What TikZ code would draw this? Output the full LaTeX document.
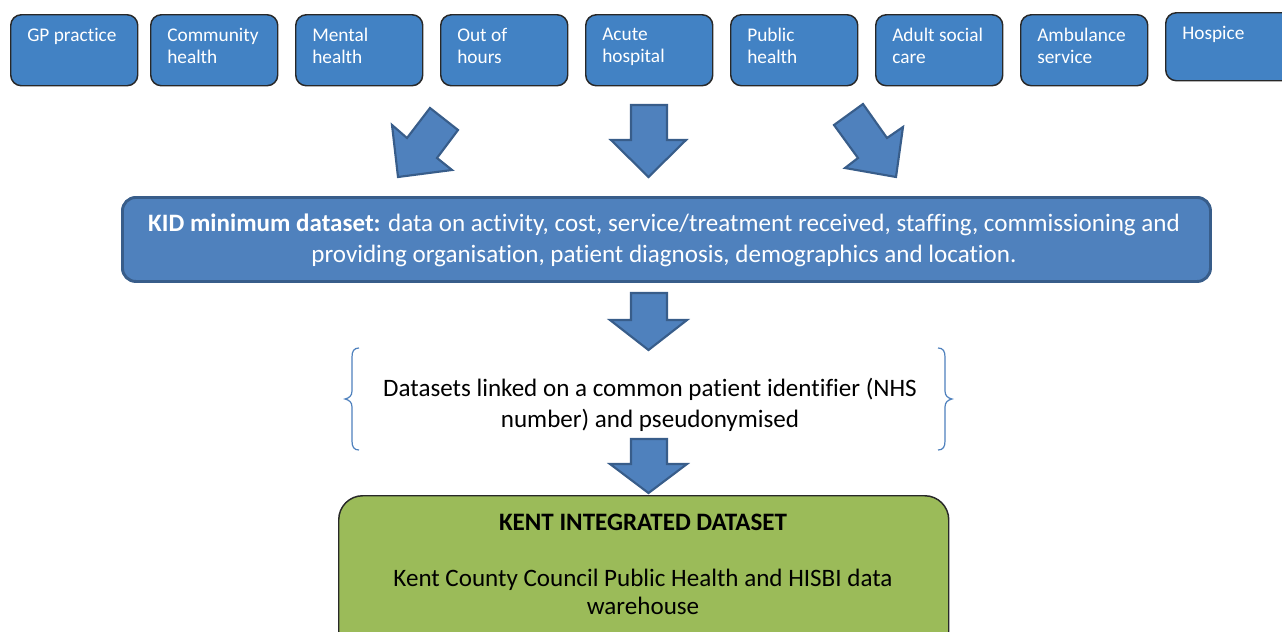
\documentclass[tikz,border=0pt]{standalone}
\usepackage{fontspec}
\setmainfont[Ligatures=NoCommon]{Carlito}
\definecolor{topblue}{RGB}{66,130,196}
\definecolor{ofblue}{RGB}{79,129,189}
\definecolor{ofborder}{RGB}{56,93,138}
\definecolor{ofgreen}{RGB}{155,187,89}
\definecolor{boxline}{RGB}{40,40,40}
\begin{document}
\begin{tikzpicture}[x=0.75pt,y=-0.75pt,
  srcbox/.style={draw=boxline, line width=1.1pt, fill=topblue, rounded corners=8pt, minimum width=95.25pt, minimum height=53.25pt, inner sep=0pt, anchor=north west},
  srctext/.style={anchor=north west, text=white, font=\fontsize{14.5pt}{16.5pt}\selectfont, align=left, inner sep=0pt},
  blockarrow/.style={fill=ofblue, draw=ofborder, line width=1.6pt, line join=miter},
  brace/.style={draw=ofblue, line width=0.9pt}
]
\clip (0,0) rectangle (1282,632);
\fill[white] (0,0) rectangle (1282,632);

% source boxes
\node[srcbox] (gp) at (10,14) {};
\node[srcbox] (comm) at (150,14) {};
\node[srcbox] (ment) at (295,14) {};
\node[srcbox] (ooh) at (440,14) {};
\node[srcbox] (acute) at (585,14) {};
\node[srcbox] (pub) at (730,14) {};
\node[srcbox] (asc) at (875,14) {};
\node[srcbox] (amb) at (1020,14) {};
\node[srcbox, minimum width=120pt, minimum height=51pt] (hosp) at (1165,12) {};

\node[srctext] (tgp) at (27,28) {GP practice};
\node[srctext] (tcomm) at (167,28) {Community\\health};
\node[srctext] (tment) at (312,28) {Mental\\health};
\node[srctext] (tooh) at (457,28) {Out of\\hours};
\node[srctext] (tacute) at (602,28) {Acute\\hospital};
\node[srctext] (tpub) at (747,28) {Public\\health};
\node[srctext] (tasc) at (892,28) {Adult social\\care};
\node[srctext] (tamb) at (1037,28) {Ambulance\\service};
\node[srctext] (thosp) at (1182,26) {Hospice};

% block arrows into KID
\draw[blockarrow] (430,108) -- (458,130) -- (437,158) -- (452,170) -- (398,177) -- (392,125) -- (407,138) -- cycle;
\draw[blockarrow] (631,105) -- (667,105) -- (667,140) -- (686,140) -- (648.5,177) -- (611,140) -- (631,140) -- cycle;
\draw[blockarrow] (863,104) -- (887,138) -- (903,127) -- (896,177) -- (845,168) -- (858,158) -- (834,125) -- cycle;

% KID box
\node[draw=ofborder, line width=2.2pt, fill=ofblue, rounded corners=10pt, minimum width=816pt, minimum height=63pt, inner sep=0pt, anchor=north west] (kid) at (121,196) {};
\node[text=white, align=center, font=\fontsize{18.8pt}{23.25pt}\selectfont, inner sep=0pt] (kidtext) at (664,240)
 {\textbf{KID minimum dataset:} data on activity, cost, service/treatment received, staffing, commissioning and\\providing organisation, patient diagnosis, demographics and location.};

% arrow KID -> linked
\draw[blockarrow] (631,293) -- (667,293) -- (667,320) -- (687,320) -- (648.5,350) -- (610,320) -- (631,320) -- cycle;

% braces
\draw[brace] (359,348) .. controls (354,348) and (352,351) .. (352,357) -- (352,391) .. controls (352,396) and (349,398) .. (345,399) .. controls (349,400) and (352,402) .. (352,407) -- (352,441) .. controls (352,447) and (354,450) .. (359,450);
\draw[brace] (938,348) .. controls (943,348) and (945,351) .. (945,357) -- (945,391) .. controls (945,396) and (948,398) .. (952,399) .. controls (948,400) and (945,402) .. (945,407) -- (945,441) .. controls (945,447) and (943,450) .. (938,450);

\node[align=center, font=\fontsize{18.8pt}{23.25pt}\selectfont, inner sep=0pt] (linked) at (650,405)
 {Datasets linked on a common patient identifier (NHS\\number) and pseudonymised};

% arrow linked -> KENT
\draw[blockarrow] (631,439) -- (667,439) -- (667,464) -- (687,464) -- (648.5,493) -- (610,464) -- (631,464) -- cycle;

% Kent integrated dataset box
\node[draw=boxline, line width=1.1pt, fill=ofgreen, rounded corners=18pt, minimum width=457.5pt, minimum height=120pt, inner sep=0pt, anchor=north west] (kent) at (338,495) {};
\node[font=\bfseries\fontsize{18.8pt}{20pt}\selectfont, inner sep=0pt] (kenttitle) at (643,522) {KENT INTEGRATED DATASET};
\node[align=center, font=\fontsize{18.8pt}{21pt}\selectfont, inner sep=0pt] (kentsub) at (643,592)
 {Kent County Council Public Health and HISBI data\\warehouse};
\end{tikzpicture}
\end{document}
